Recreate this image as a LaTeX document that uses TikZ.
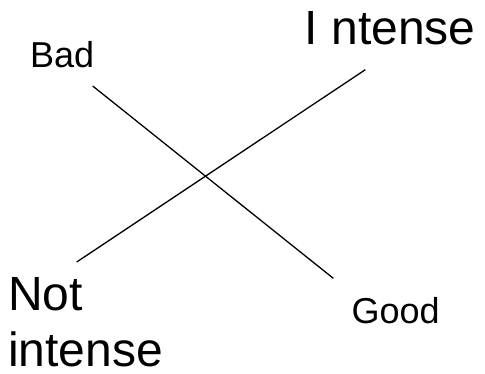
\documentclass[tikz,border=0pt]{standalone}
\usepackage{fontspec}
\setmainfont{Liberation Sans}
\begin{document}
\begin{tikzpicture}[x=1pt,y=-1pt,
  lbl/.style={inner sep=0pt,anchor=base west},
  small/.style={lbl,font=\fontsize{36}{40}\selectfont},
  big/.style={lbl,font=\fontsize{48}{56.7}\selectfont},
  axis/.style={draw=black,line width=1.3pt}]
\useasboundingbox (0,0) rectangle (485,374);
\node[small] (bad) at (30,67.7) {Bad};
\node[big] (intense) at (304,44.3) {I\kern 14pt ntense};
\node[big,align=left] (notint) at (8,366.7) {Not\\intense};
\node[small] (good) at (351.5,323.3) {Good};
\coordinate (a1) at (92.7,86);
\coordinate (a2) at (333.3,278.3);
\coordinate (b1) at (76.7,262);
\coordinate (b2) at (365.3,69.7);
\draw[axis] (a1) -- (a2);
\draw[axis] (b1) -- (b2);
\end{tikzpicture}
\end{document}
